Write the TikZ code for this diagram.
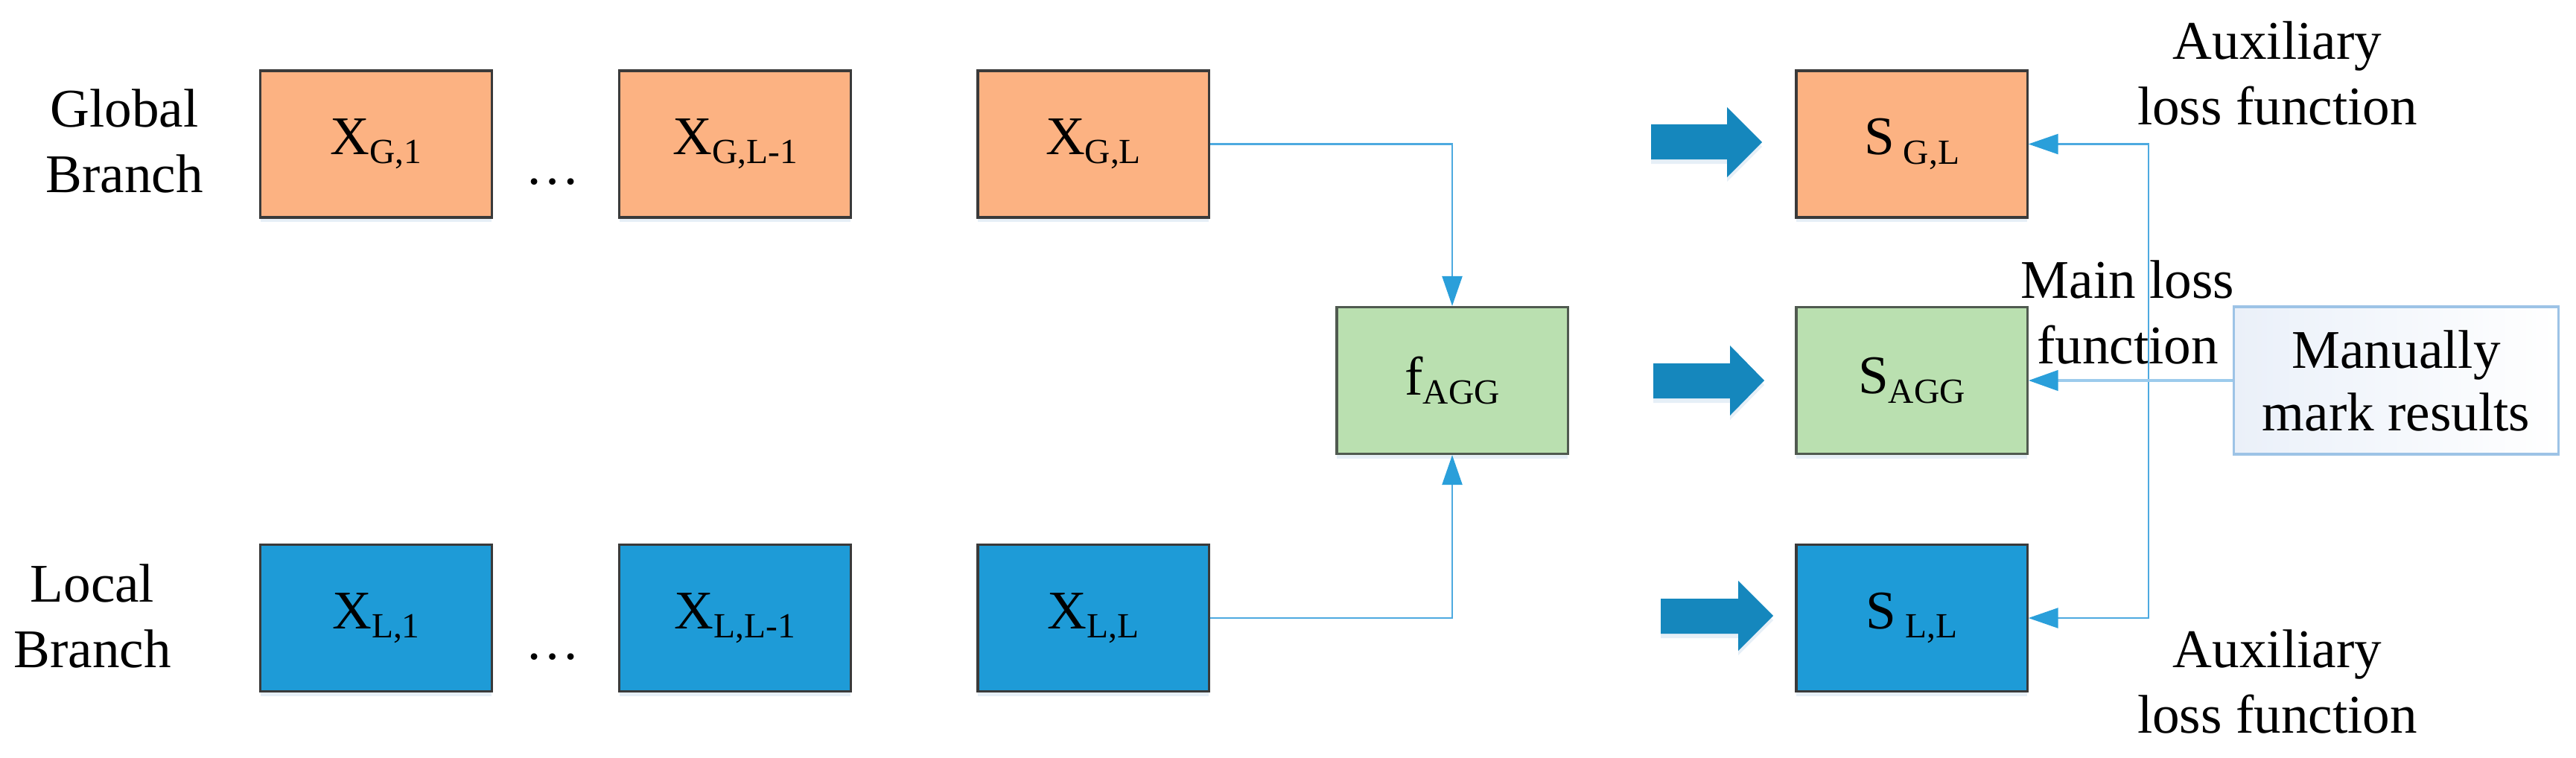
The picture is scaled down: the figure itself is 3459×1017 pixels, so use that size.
\documentclass[tikz,border=0pt]{standalone}
\usepackage{fontspec}
\setmainfont{Liberation Serif}
\usetikzlibrary{arrows.meta,shadows}
\definecolor{orangefill}{HTML}{FCB282}
\definecolor{greenfill}{HTML}{BAE0B0}
\definecolor{bluefill}{HTML}{1E9BD7}
\definecolor{boxline}{HTML}{3A3A3A}
\definecolor{greenline}{HTML}{505A50}
\definecolor{bigarrowc}{HTML}{1587BD}
\definecolor{connc}{HTML}{4DAAE0}
\definecolor{tipc}{HTML}{2A9FDA}
\definecolor{manline}{HTML}{9DC3E6}
\definecolor{manfill}{HTML}{EAF0F9}
\definecolor{mainconnc}{HTML}{9CCBEC}
\definecolor{shadowc}{HTML}{DCE8F4}
\newcommand\sbs[1]{\raisebox{-3.5pt}{\fontsize{13.5}{14}\selectfont #1}}
\begin{document}
\begin{tikzpicture}[x=0.01cm,y=-0.01cm,
  font=\fontsize{20.8}{24.8}\selectfont,
  shad/.style={drop shadow={shadow xshift=0cm, shadow yshift=-0.06cm, fill=shadowc, opacity=0.7}},
  blk/.style={draw=boxline, line width=0.9pt, minimum width=3.1cm, minimum height=1.97cm, inner sep=0pt, shad},
  manual/.style={draw=manline, line width=0.9pt, left color=manfill, right color=white, minimum width=4.35cm, minimum height=1.98cm, inner sep=0pt, align=center, font=\fontsize{20.8}{23.9}\selectfont},
  lbl/.style={anchor=base, align=center, inner sep=0pt},
  bigarr/.style={fill=bigarrowc, draw=none, shad},
  tip/.tip={Triangle[length=0.4cm, width=0.27cm, color=tipc]},
  conn/.style={draw=connc, line width=0.7pt, -tip},
  mainconn/.style={draw=mainconnc, line width=1.3pt, -tip}
]
\useasboundingbox (0,0) rectangle (3459,1017);

% labels (base = baseline of last line)
\node[lbl] (gb) at (167,258) {Global\\Branch};
\node[lbl] (lb) at (124,896) {Local\\Branch};
\node[lbl] (auxt) at (3058,167) {Auxiliary\\loss function};
\node[lbl] (mainl) at (2857,488) {Main loss\\function};
\node[lbl] (auxb) at (3058,984) {Auxiliary\\loss function};

% global row
\node[blk, fill=orangefill] (XG1) at (505,193.5) {X\sbs{G,1}};
\node[blk, fill=orangefill] (XGL1) at (987,193.5) {X\sbs{G,L-1}};
\node[blk, fill=orangefill] (XGL) at (1468,193.5) {X\sbs{G,L}};
\node[lbl] (dg) at (742,247) {…};

% local row
\node[blk, fill=bluefill] (XL1) at (505,830) {X\sbs{L,1}};
\node[blk, fill=bluefill] (XLL1) at (987,830) {X\sbs{L,L-1}};
\node[blk, fill=bluefill] (XLL) at (1468,830) {X\sbs{L,L}};
\node[lbl] (dl) at (742,885) {…};

% aggregation
\node[blk, fill=greenfill, draw=greenline] (fagg) at (1950,511) {f\sbs{AGG}};

% outputs
\node[blk, fill=orangefill] (SGL) at (2567,193.5) {S\,\sbs{G,L}};
\node[blk, fill=greenfill, draw=greenline] (SAGG) at (2567,511) {S\sbs{AGG}};
\node[blk, fill=bluefill] (SLL) at (2567,830) {S\,\sbs{L,L}};

\node[manual] (man) at (3217.5,511) {Manually\\mark results};

% thick arrows
\fill[bigarr] (2217,167) -- (2319,167) -- (2319,144) -- (2366,191) -- (2319,238) -- (2319,214) -- (2217,214) -- cycle;
\fill[bigarr] (2220,488) -- (2323,488) -- (2323,464) -- (2369,511) -- (2323,558) -- (2323,535) -- (2220,535) -- cycle;
\fill[bigarr] (2230,804) -- (2334,804) -- (2334,780) -- (2381,827) -- (2334,874) -- (2334,851) -- (2230,851) -- cycle;

% connectors
\draw[conn] (XGL.east) -| (fagg.north);
\draw[conn] (XLL.east) -| (fagg.south);
\coordinate (vt) at (2885,193.5);
\coordinate (vb) at (2885,830);
\draw[conn, tip-tip] (SGL.east) -- (vt) -- (vb) -- (SLL.east);
\draw[mainconn] (man.west) -- (SAGG.east);
\end{tikzpicture}
\end{document}
